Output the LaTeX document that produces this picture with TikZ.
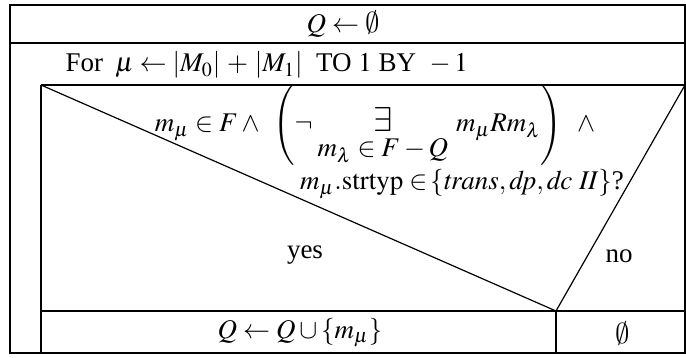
\documentclass[tikz,border=0pt]{standalone}
\usepackage{amsmath}
\usepackage{mathptmx}
\usepackage{fontspec}
\setmainfont{Liberation Serif}
\DeclareSymbolFont{cmsymbols}{OMS}{cmsy}{m}{n}
\DeclareMathSymbol{\leer}{\mathord}{cmsymbols}{"3B}

\begin{document}
\begin{tikzpicture}[x=0.5pt, y=-0.5pt, line width=0.6pt,
  txt/.style={inner sep=0pt, font=\fontsize{13.5}{16}\selectfont},
  frame/.style={draw, line width=0.8pt}]

  \useasboundingbox (0,0) rectangle (686,358);

  % Eckpunkte des Struktogramms
  \coordinate (TL) at (10,5);
  \coordinate (BR) at (685,353);
  \coordinate (SL) at (10,43);
  \coordinate (SR) at (685,43);
  \coordinate (LTL) at (41,85);
  \coordinate (LTR) at (685,85);
  \coordinate (LBL) at (41,353);
  \coordinate (CL) at (41,311);
  \coordinate (CR) at (685,311);
  \coordinate (CX) at (556,311);
  \coordinate (CB) at (556,353);

  % Rahmen und Trennlinien
  \draw[frame] (TL) rectangle (BR);
  \draw[frame] (SL) -- (SR);
  \draw (LTL) -- (LTR);
  \draw (LTL) -- (LBL);
  \draw[frame] (CL) -- (CR);
  \draw[frame] (CX) -- (CB);
  \draw (LTL) -- (CX) -- (LTR);

  % Texte
  \node[txt] (init) at (343,24) {$Q \leftarrow \leer$};
  \node[txt, anchor=base west] (loop) at (65,72)
    {$\text{For}\;\; \mu \leftarrow |M_0| \,+\, |M_1| \text{ \ TO } 1 \text{ BY }\, -1$};
  \node[txt, anchor=base] (cond1) at (375,132)
    {\setlength{\arraycolsep}{1pt}%
     $m_\mu \in F \wedge\hspace{5pt}\left(\neg\,
      \begin{array}[t]{c}\text{\LARGE$\exists$}\\[-3.5pt] m_\lambda \in F - Q\end{array}
      \; m_\mu R m_\lambda\right)\hspace{6pt}\wedge$};
  \node[txt, anchor=base] (cond2) at (462,190)
    {$m_\mu.\mathrm{strtyp} \in\!\{\mathit{trans}, \mathit{dp}, \mathit{dc}~\mathit{II}\}$?};
  \node[txt] (yes) at (305,255) {yes};
  \node[txt] (no) at (619,256) {no};
  \node[txt] (then) at (300,333) {$Q \leftarrow Q \cup \{m_\mu\}$};
  \node[txt] (else) at (623,333) {$\leer$};
\end{tikzpicture}
\end{document}
